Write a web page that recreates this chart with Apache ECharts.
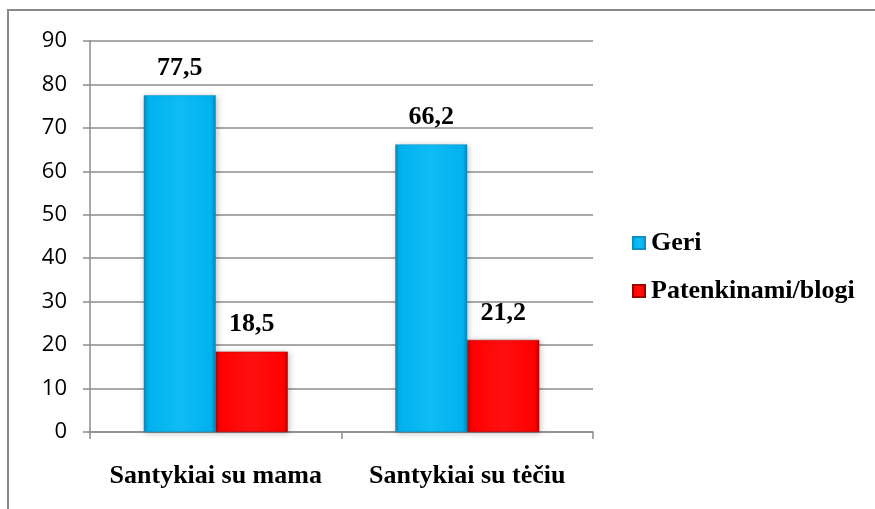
<!DOCTYPE html>
<html>
<head>
<meta charset="utf-8">
<script src="https://cdn.jsdelivr.net/npm/echarts@6/dist/echarts.min.js"></script>
<style>
  html, body { margin: 0; padding: 0; background: #fff; }
  #chart { width: 875px; height: 509px; }
</style>
</head>
<body>
<div id="chart"></div>
<script>
var categories = ['Santykiai su mama', 'Santykiai su tėčiu']
var seriesNames = ['Geri', 'Patenkinami/blogi']
var geri = [77.5, 66.2]
var blogi = [18.5, 21.2]
var yTicks = [0, 10, 20, 30, 40, 50, 60, 70, 80, 90]

var serif = '"Liberation Serif", "Times New Roman", serif'

function bevel (light, main, dark) {
  return new echarts.graphic.LinearGradient(0, 0, 1, 0, [
    { offset: 0, color: dark },
    { offset: 0.06, color: main },
    { offset: 0.5, color: light },
    { offset: 0.94, color: main },
    { offset: 1, color: dark }
  ])
}

var blueFill = bevel('#10bcf3', '#00b2f0', '#0a86b4')
var redFill = bevel('#ff1010', '#ff0000', '#b80000')

function fmt (p) {
  return String(p.value).replace('.', ',')
}

var chart = echarts.init(document.getElementById('chart'))

var labelStyle = {
  show: true,
  position: 'top',
  distance: 14,
  formatter: fmt,
  fontFamily: serif,
  fontWeight: 'bold',
  fontSize: 26,
  color: '#000'
}

var option = {
  backgroundColor: '#ffffff',
  animation: false,
  graphic: [{
    type: 'rect',
    shape: { x: 8, y: 10, width: 900, height: 600 },
    style: { fill: 'none', stroke: '#8a8a8a', lineWidth: 2 }
  }],
  legend: {
    orient: 'vertical',
    left: 627,
    top: 225,
    itemWidth: 12,
    itemHeight: 12,
    itemGap: 22,
    icon: 'rect',
    data: seriesNames,
    textStyle: {
      fontFamily: serif,
      fontWeight: 'bold',
      fontSize: 26,
      color: '#000',
      padding: [0, 0, 0, 1]
    }
  },
  grid: {
    left: 90,
    right: 282,
    top: 41,
    bottom: 77,
    containLabel: false
  },
  xAxis: {
    type: 'category',
    data: categories,
    axisLine: { lineStyle: { color: '#8c8c8c', width: 1.5 } },
    axisTick: { show: true, length: 7, lineStyle: { color: '#8c8c8c', width: 1.5 } },
    axisLabel: {
      interval: 0,
      hideOverlap: false,
      margin: 31,
      fontFamily: serif,
      fontWeight: 'bold',
      fontSize: 26,
      color: '#000'
    }
  },
  yAxis: {
    type: 'value',
    min: yTicks[0],
    max: yTicks[yTicks.length - 1],
    interval: 10,
    axisLine: { show: true, lineStyle: { color: '#8c8c8c', width: 1.5 } },
    axisTick: { show: true, length: 7, lineStyle: { color: '#8c8c8c', width: 1.5 } },
    splitLine: { lineStyle: { color: '#8c8c8c', width: 1.5 } },
    axisLabel: {
      margin: 23,
      fontFamily: '"Open Sans", Lato, sans-serif',
      fontSize: 22,
      color: '#000'
    }
  },
  series: [
    {
      name: seriesNames[0],
      type: 'bar',
      data: geri,
      barWidth: 72,
      barGap: '0%',
      itemStyle: {
        color: blueFill,
        borderColor: '#0a8fc2',
        borderWidth: 0.5,
        shadowBlur: 6,
        shadowColor: 'rgba(0,0,0,0.25)',
        shadowOffsetX: 1,
        shadowOffsetY: 1
      },
      label: labelStyle
    },
    {
      name: seriesNames[1],
      type: 'bar',
      data: blogi,
      barWidth: 72,
      barGap: '0%',
      itemStyle: {
        color: redFill,
        borderColor: '#a00000',
        borderWidth: 0.5,
        shadowBlur: 6,
        shadowColor: 'rgba(0,0,0,0.25)',
        shadowOffsetX: 1,
        shadowOffsetY: 1
      },
      label: labelStyle
    }
  ]
}

chart.setOption(option)
</script>
</body>
</html>
